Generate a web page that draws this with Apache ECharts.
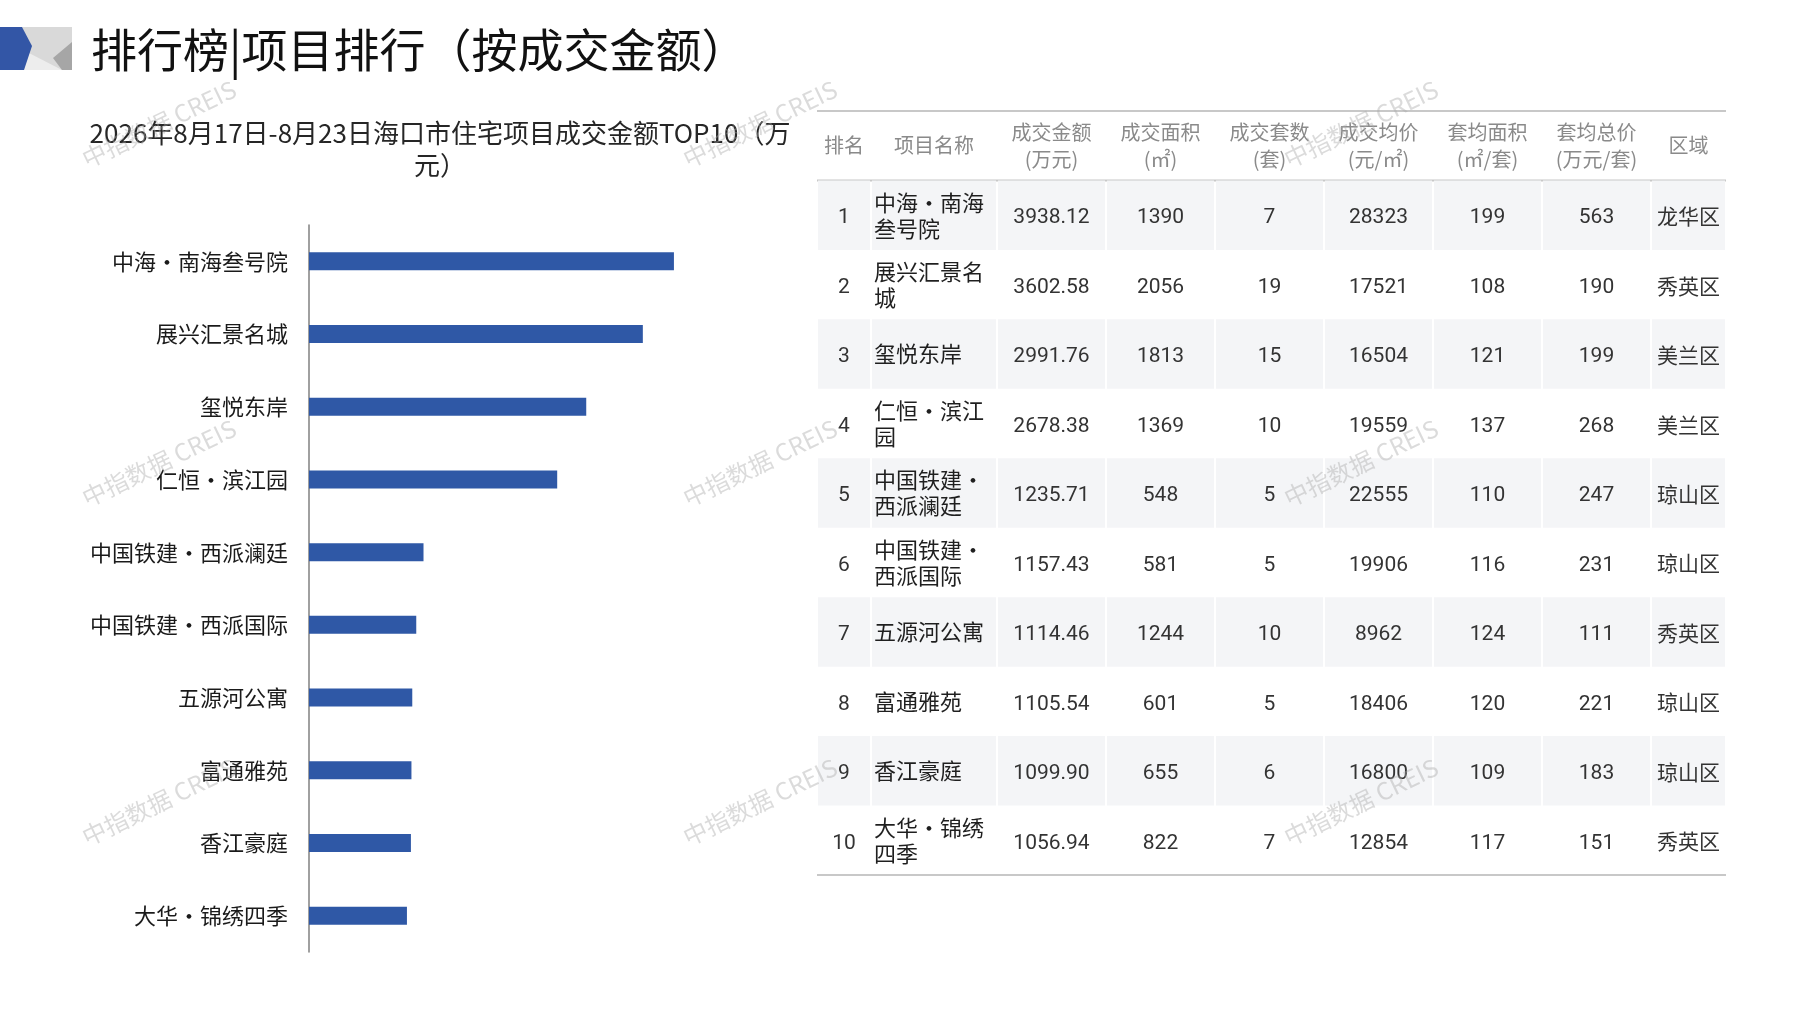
<!DOCTYPE html>
<html>
<head>
<meta charset="utf-8">
<title>项目排行（按成交金额）</title>
<script src="https://cdn.jsdelivr.net/npm/echarts@6/dist/echarts.min.js"></script>
<style>
html, body { margin: 0; padding: 0; background: #fff; }
#main { width: 1797px; height: 1010px; }
</style>
</head>
<body>
<div id="main"></div>
<script>
// 数据
var projectNames = ['中海·南海叁号院', '展兴汇景名城', '玺悦东岸', '仁恒·滨江园', '中国铁建·西派澜廷',
    '中国铁建·西派国际', '五源河公寓', '富通雅苑', '香江豪庭', '大华·锦绣四季'];
var dealAmounts = [3938.12, 3602.58, 2991.76, 2678.38, 1235.71, 1157.43, 1114.46, 1105.54, 1099.90, 1056.94];
var dealAreas = [1390, 2056, 1813, 1369, 548, 581, 1244, 601, 655, 822];
var dealUnits = [7, 19, 15, 10, 5, 5, 10, 5, 6, 7];
var avgPrices = [28323, 17521, 16504, 19559, 22555, 19906, 8962, 18406, 16800, 12854];
var avgUnitAreas = [199, 108, 121, 137, 110, 116, 124, 120, 109, 117];
var avgUnitTotals = [563, 190, 199, 268, 247, 231, 111, 221, 183, 151];
var districts = ['龙华区', '秀英区', '美兰区', '美兰区', '琼山区', '琼山区', '秀英区', '琼山区', '琼山区', '秀英区'];
var tableHeaders = ['排名', '项目名称', '成交金额\n(万元)', '成交面积\n(㎡)', '成交套数\n(套)',
    '成交均价\n(元/㎡)', '套均面积\n(㎡/套)', '套均总价\n(万元/套)', '区域'];

// 表格列宽
var colWidths = [54, 126, 109, 109, 109, 109, 109, 109, 75];
var colEdges = [0];
colWidths.forEach(function (w, i) { colEdges.push(colEdges[i] + w); });

var CJK = '"Noto Sans CJK SC", sans-serif';
var NUM = 'Roboto, "Noto Sans CJK SC", sans-serif';

// 表格单元
var rowKeys = ['表头'];
var cells = [];
tableHeaders.forEach(function (h, c) { cells.push({ value: [c, 0], text: h }); });
projectNames.forEach(function (name, i) {
    var r = i + 1;
    rowKeys.push(String(r));
    var row = [String(r), name, dealAmounts[i].toFixed(2), dealAreas[i], dealUnits[i],
        avgPrices[i], avgUnitAreas[i], avgUnitTotals[i], districts[i]];
    row.forEach(function (t, c) { cells.push({ value: [c, r], text: String(t) }); });
});

function renderCell(params, api) {
    var c = api.value(0), r = api.value(1);
    var p0 = api.coord([colEdges[c], r]);
    var p1 = api.coord([colEdges[c + 1], r]);
    var h = api.size([0, 1])[1];
    var x0 = p0[0], x1 = p1[0], yc = p0[1];
    var y0 = yc - h / 2, y1 = yc + h / 2;
    var text = cells[params.dataIndex].text;
    var children = [];
    if (r % 2 === 1) {
        children.push({ type: 'rect', shape: { x: x0 + 1, y: y0, width: x1 - x0 - 2, height: h },
            style: { fill: '#F4F5F7' } });
    }
    var style;
    if (r === 0) {
        style = { text: text, x: (x0 + x1) / 2, y: yc, align: 'center', verticalAlign: 'middle',
            fill: '#8A8A8A', fontSize: 20, fontFamily: CJK, lineHeight: 27 };
    } else if (c === 1) {
        style = { text: text, x: x0 + 3, y: yc, align: 'left', verticalAlign: 'middle',
            fill: '#1F1F1F', fontSize: 22, fontFamily: CJK, lineHeight: 26, width: 112, overflow: 'break' };
    } else if (c === 8) {
        style = { text: text, x: (x0 + x1) / 2, y: yc + 1, align: 'center', verticalAlign: 'middle',
            fill: '#333333', fontSize: 21, fontFamily: CJK };
    } else {
        style = { text: text, x: (x0 + x1) / 2, y: yc + 3, align: 'center', verticalAlign: 'middle',
            fill: '#333333', fontSize: 21, fontFamily: NUM };
    }
    children.push({ type: 'text', style: style });
    var lineStyle = { stroke: '#C8C8C8', lineWidth: 2 };
    if (r === 0) {
        children.push({ type: 'line', shape: { x1: x0, y1: y0, x2: x1, y2: y0 }, style: lineStyle });
        children.push({ type: 'line', shape: { x1: x0, y1: y1, x2: x1, y2: y1 }, style: lineStyle });
    }
    if (r === rowKeys.length - 1) {
        children.push({ type: 'line', shape: { x1: x0, y1: y1, x2: x1, y2: y1 }, style: lineStyle });
    }
    return { type: 'group', children: children };
}

// 水印
var marks = [];
[159, 760, 1361].forEach(function (x) {
    [124, 463, 802].forEach(function (y) {
        marks.push({
            type: 'text', x: x, y: y, rotation: 0.45, z: 100, silent: true,
            style: { text: '中指数据 CREIS', align: 'center', verticalAlign: 'middle',
                fill: 'rgba(170,170,170,0.42)', fontSize: 24, fontFamily: CJK }
        });
    });
});

var myChart = echarts.init(document.getElementById('main'));
var option = {
    animation: false,
    backgroundColor: '#fff',
    title: [{
        text: '排行榜|项目排行（按成交金额）',
        left: 86,
        top: 22,
        textStyle: { fontSize: 46, fontWeight: 'normal', color: '#111', fontFamily: CJK }
    }, {
        text: '2026年8月17日-8月23日海口市住宅项目成交金额TOP10（万元）',
        left: 435,
        top: 112,
        textAlign: 'center',
        textStyle: { fontSize: 26, fontWeight: 'normal', color: '#262626', fontFamily: CJK,
            lineHeight: 32, width: 715, overflow: 'break' }
    }],
    graphic: [
        { type: 'rect', shape: { x: 0, y: 27, width: 72, height: 43 }, style: { fill: '#D9D9D9' } },
        { type: 'polygon', shape: { points: [[27, 52], [24, 70], [62, 70]] }, style: { fill: '#EDEDED' } },
        { type: 'polygon', shape: { points: [[53, 58], [72, 42], [72, 70], [62, 70]] }, style: { fill: '#A6A6A6' } },
        { type: 'polygon', shape: { points: [[0, 27], [22, 27], [32, 46], [24, 70], [0, 70]] }, style: { fill: '#3356A6' } }
    ].concat(marks),
    grid: [
        { left: 309, top: 225, width: 417, height: 727 },
        { left: 817, top: 111, width: 909, height: 764 }
    ],
    xAxis: [
        { gridIndex: 0, type: 'value', min: 0, max: 4500, show: false },
        { gridIndex: 1, type: 'value', min: 0, max: colEdges[colEdges.length - 1], show: false }
    ],
    yAxis: [{
        gridIndex: 0,
        type: 'category',
        inverse: true,
        data: projectNames,
        axisLine: { lineStyle: { color: '#808080', width: 1.5 } },
        axisTick: { inside: true, length: 5, lineStyle: { color: '#808080' } },
        axisLabel: { margin: 21, fontSize: 22, color: '#1A1A1A', fontFamily: CJK }
    }, {
        gridIndex: 1,
        type: 'category',
        inverse: true,
        data: rowKeys,
        show: false
    }],
    series: [{
        name: '成交金额',
        type: 'bar',
        xAxisIndex: 0,
        yAxisIndex: 0,
        barWidth: 18,
        itemStyle: { color: '#2F58A6' },
        data: dealAmounts
    }, {
        name: '项目排行表',
        type: 'custom',
        xAxisIndex: 1,
        yAxisIndex: 1,
        renderItem: renderCell,
        data: cells.map(function (d) { return d.value; })
    }]
};
myChart.setOption(option);
window.onresize = function () {
    myChart.resize();
};
</script>
</body>
</html>
